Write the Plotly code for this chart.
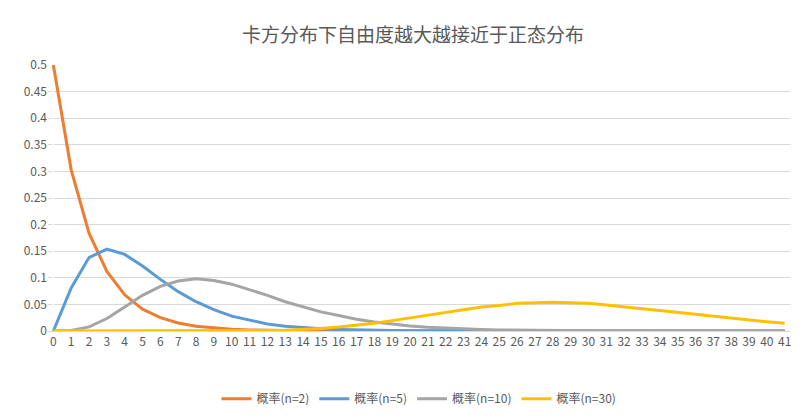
import plotly.graph_objects as go

x = list(range(42))
n2 = [0.5,0.303,0.184,0.112,0.068,0.041,0.025,0.015,0.009,0.006,0.0034,0.002,0.0012,0.0008,0.0005,0.0003,0.0002,0.0001] + [0]*24
n5 = [0,0.081,0.138,0.154,0.144,0.122,0.097,0.074,0.055,0.040,0.028,0.020,0.013,0.009,0.006,0.004,0.003,0.002,0.0013,0.0009,0.0006,0.0004,0.0002,0.0001] + [0]*18
n10 = [0,0.0008,0.0077,0.0235,0.045,0.067,0.084,0.094,0.098,0.095,0.088,0.078,0.067,0.055,0.045,0.036,0.029,0.022,0.017,0.013,0.0095,0.007,0.0051,0.0037,0.0027,0.0019,0.0013,0.001,0.0007,0.0005,0.0003,0.0002,0.0001] + [0]*9
n30 = [0,0,0,0,0,0,0,0,0,0,0.0002,0.0004,0.0008,0.0015,0.0027,0.0047,0.0074,0.0107,0.0145,0.0195,0.0245,0.030,0.0355,0.040,0.0449,0.048,0.052,0.053,0.054,0.053,0.052,0.049,0.046,0.042,0.0385,0.035,0.031,0.027,0.0236,0.020,0.0173,0.0146]
yticks = [0, 0.05, 0.1, 0.15, 0.2, 0.25, 0.3, 0.35, 0.4, 0.45, 0.5]
yticktext = ["0", "0.05", "0.1", "0.15", "0.2", "0.25", "0.3", "0.35", "0.4", "0.45", "0.5"]

series = [("概率(n=2)", n2, "#ED7D31"), ("概率(n=5)", n5, "#5B9BD5"),
          ("概率(n=10)", n10, "#A5A5A5"), ("概率(n=30)", n30, "#FFC000")]

fig = go.Figure()
for name, y, c in series:
    fig.add_trace(go.Scatter(x=x, y=y, name=name, mode="lines", line=dict(color=c, width=3)))

fig.update_layout(
    width=810, height=417, paper_bgcolor="white", plot_bgcolor="white",
    font=dict(family="Noto Sans CJK SC", size=12, color="#595959"),
    title=dict(text="卡方分布下自由度越大越接近于正态分布", x=0.5, y=0.95, xanchor="center",
               font=dict(size=19, color="#595959")),
    margin=dict(l=40, r=28, t=57, b=90),
    legend=dict(orientation="h", x=0.5, xanchor="center", y=-0.2, yanchor="top", font=dict(size=12)),
    xaxis=dict(tickmode="array", tickvals=x, ticktext=[str(v) for v in x], range=[-0.3, 41.3],
               showgrid=False, showline=True, linecolor="#D9D9D9", ticks="", tickangle=0),
    yaxis=dict(range=[0, 0.5], tickmode="array", tickvals=yticks, ticktext=yticktext,
               showgrid=True, gridcolor="#D9D9D9", zeroline=False, ticks=""),
)
fig.write_html("out.html")
